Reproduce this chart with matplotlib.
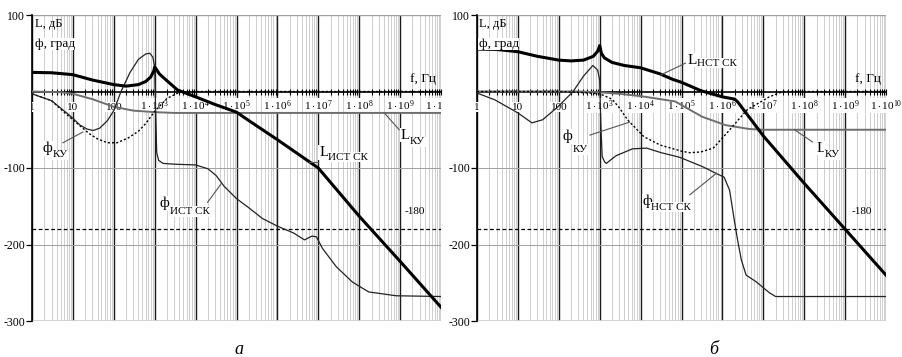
import matplotlib
matplotlib.use('Agg')
import matplotlib.pyplot as plt
from matplotlib.ticker import FixedLocator, NullFormatter
from matplotlib.transforms import ScaledTranslation

plt.rcParams['font.family'] = ['Liberation Serif', 'DejaVu Serif']
plt.rcParams['mathtext.fontset'] = 'custom'
plt.rcParams['mathtext.rm'] = 'Liberation Serif'
plt.rcParams['mathtext.it'] = 'Liberation Serif:italic'

# ---------- panel "а" ----------
fa_L = [1, 3, 10, 30, 100, 200, 400, 600, 800, 950, 1000, 1100, 1300, 2000, 3600,
        1e4, 3e4, 1e5, 2e5, 1e6, 1e7, 1e8, 1e9, 1e10]
La_L = [25, 24.5, 22, 15, 9, 7, 9, 13, 19, 27, 32, 29, 23, 14, 2,
        -7, -17, -27, -38, -63, -100, -163, -222, -282]

fa_KU = [1, 5, 10, 30, 100, 300, 1000, 3000, 1e10]
La_KU = [0, -1, -3, -10, -20, -25, -27, -28, -28]

fa_phiKU = [1, 3, 7, 10, 15, 25, 40, 70, 120, 220, 400, 600, 1000, 2000, 4000, 1e4, 1e10]
pa_KU = [-3, -12, -30, -37, -45, -55, -62, -67, -67, -61, -52, -42, -26, -9, -1, 0, 0]

fa_phi = [1, 3, 7, 10, 15, 22, 31, 45, 70, 100, 150, 250, 400, 600, 760, 900, 1000,
          1060, 1120, 1250, 1600, 3000, 1e4, 2e4, 3.2e4, 5e4, 1e5, 2e5, 4.3e5, 1e6,
          2.5e6, 4.6e6, 7e6, 9e6, 1.26e7, 2.75e7, 6.8e7, 1.7e8, 8e8, 1e10]
pa_phi = [-3, -12, -28, -35, -44, -49, -51, -48, -38, -25, 0, 25, 42, 49, 50, 45, 32,
          -30, -80, -90, -94, -95, -96, -101, -110, -124, -140, -152, -166, -176,
          -185, -194, -189, -190, -205, -229, -249, -262, -267, -268]

# ---------- panel "б" ----------
fb_L = [1, 3, 10, 30, 100, 200, 400, 700, 900, 1000, 1100, 1300, 2000, 4000, 1e4,
        3e4, 6e4, 1e5, 3e5, 1e6, 2e6, 2.4e6, 1e7, 1e8, 1e9, 1e10]
Lb_L = [55.5, 55, 52, 46, 41, 40, 41, 46, 53, 60, 50, 44, 38, 34, 31,
        23, 16, 12, 1, -7, -10, -14, -58, -120, -180, -240]

fb_KU = [1, 300, 1000, 3000, 1e4, 7e4, 3.2e5, 1.2e6, 4.5e6, 1e7, 1e10]
Lb_KU = [0, 0, -1, -3, -6, -13, -33, -44, -49, -50, -50]

fb_phiKU = [1, 100, 300, 1000, 2000, 3000, 4800, 1.2e4, 3e4, 1e5, 1.6e5, 3e5, 6e5,
            1.3e6, 4e6, 1.4e7, 3e7, 1e10]
pb_KU = [0, 0, -1, -3, -10, -21, -37, -59, -70, -78, -80, -79, -74, -54, -24, -7, 0, 0]

fb_phi = [1, 2.75, 10, 22, 40, 95, 224, 400, 630, 680, 890, 1000, 1060, 1150, 1320,
          1450, 2500, 6300, 1.4e4, 3.2e4, 9e4, 3.2e5, 7e5, 1.1e6, 1.5e6, 1.95e6,
          2.35e6, 2.9e6, 3.8e6, 6.8e6, 1.4e7, 2e7, 1e10]
pb_phi = [-2, -11, -28, -41, -37, -20, 0, 20, 32, 34, 28, 15, -40, -85, -92,
          -94, -84, -75, -74, -80, -86, -98, -107, -112, -129, -168,
          -194, -220, -240, -249, -263, -268, -268]

decades = [10 ** d for d in range(11)]
x_labels = ['1', '10', '100'] + [r'$1\cdot10^{%d}$' % d for d in range(3, 11)]
y_ticks = [100, -100, -200, -300]
y_labels = ['100', '-100', '-200', '-300']

fig = plt.figure(figsize=(9.02, 3.57), dpi=100)


def setup(ax):
    ax.set_xscale('log')
    ax.set_xlim(1, 1e10)
    ax.set_ylim(-300, 100)
    for d in range(10):
        for k in range(2, 10):
            ax.axvline(k * 10 ** d, color='#c6c6c6', lw=0.6, zorder=0)
    for d in decades:
        ax.axvline(d, color='#1a1a1a', lw=1.0, zorder=1)
    for yv in [-100, -200]:
        ax.axhline(yv, color='#a0a0a0', lw=0.7, zorder=1)
    ax.axhline(100, color='#a0a0a0', lw=1.0, zorder=1)
    ax.axhline(-300, color='#d0d0d0', lw=2.0, zorder=1)
    ax.axhline(-180, color='black', lw=0.9, ls=(0, (3, 2)), zorder=2)

    for s in ['top', 'right']:
        ax.spines[s].set_visible(False)
    ax.spines['bottom'].set_position(('data', 0))
    ax.spines['bottom'].set_linewidth(1.2)
    ax.spines['left'].set_linewidth(1.2)
    ax.spines['bottom'].set_zorder(2.5)

    ax.set_xticks(decades)
    ax.set_xticklabels([])
    ax.xaxis.set_minor_locator(FixedLocator([k * 10 ** d for d in range(10) for k in range(2, 10)]))
    ax.xaxis.set_minor_formatter(NullFormatter())
    ax.tick_params(axis='x', which='both', direction='inout', length=5, width=0.8)

    ax.set_yticks(y_ticks)
    ax.set_yticklabels(y_labels)
    ax.tick_params(axis='y', direction='out', length=4, width=0.9, labelsize=8.5, pad=1)

    # decade labels just under the f axis, drawn under the curves
    off = ax.transData + ScaledTranslation(0, -13 / 72, fig.dpi_scale_trans)
    for d, s in zip(decades, x_labels):
        ax.text(d, 0, s, transform=off, ha='center', va='baseline', fontsize=8,
                clip_on=True, zorder=2.6,
                bbox=dict(facecolor='white', edgecolor='none', pad=0.3))


def label(ax, x, y, main, sub, xs, ys, fs=11):
    box = dict(facecolor='white', edgecolor='none', pad=0.5)
    ax.text(x, y, main, ha='left', va='center', fontsize=fs, zorder=5, bbox=box)
    ax.text(xs, ys, sub, ha='left', va='center', fontsize=8, zorder=5, bbox=box)


def leader(ax, p1, p2):
    ax.plot([p1[0], p2[0]], [p1[1], p2[1]], color='#555555', lw=0.8, zorder=4)


# ---------- а ----------
ax1 = fig.add_axes([32 / 902, 1 - 321 / 357, 409 / 902, 306 / 357])
setup(ax1)
ax1.plot(fa_KU, La_KU, color='#6e6e6e', lw=1.4, zorder=3)
ax1.plot(fa_phiKU, pa_KU, color='black', lw=1.0, ls=(0, (1.5, 1.5)), zorder=3)
ax1.plot(fa_phi, pa_phi, color='#222222', lw=0.9, zorder=3)
ax1.plot(fa_L, La_L, color='black', lw=2.2, zorder=3)

ax1.text(1.2, 88, 'L, дБ', fontsize=9, va='center', zorder=5)
ax1.text(1.2, 62, 'ф, град', fontsize=9.5, va='center', zorder=5,
         bbox=dict(facecolor='white', edgecolor='none', pad=0.3))
ax1.text(1.7e9, 16, 'f, Гц', fontsize=9.5, va='center', zorder=5)
ax1.text(1.26e9, -157, '-180', fontsize=8, va='center', zorder=5)

label(ax1, 1.85, -74, 'ф', 'КУ', 3.25, -83)
leader(ax1, (5.7, -67), (17.5, -53))
label(ax1, 1325, -146, 'ф', 'ИСТ СК', 2320, -157)
leader(ax1, (1.96e4, -145), (4.3e4, -120))
label(ax1, 1.05e7, -80, 'L', 'ИСТ СК', 1.75e7, -86)
leader(ax1, (6.0e6, -92), (1.0e7, -92))
label(ax1, 1.05e9, -57, 'L', 'КУ', 1.75e9, -66)
leader(ax1, (9.5e8, -50), (4.1e8, -28))

# ---------- б ----------
ax2 = fig.add_axes([477 / 902, 1 - 321 / 357, 409 / 902, 306 / 357])
setup(ax2)
for t in ax2.texts:
    t.set_clip_on(False)
ax2.plot(fb_KU, Lb_KU, color='#6e6e6e', lw=1.4, zorder=3)
ax2.plot(fb_phiKU, pb_KU, color='black', lw=1.0, ls=(0, (1.5, 1.5)), zorder=3)
ax2.plot(fb_phi, pb_phi, color='#222222', lw=0.9, zorder=3)
ax2.plot(fb_L, Lb_L, color='black', lw=2.2, zorder=3)

ax2.text(1.15, 88, 'L, дБ', fontsize=9, va='center', zorder=5)
ax2.text(1.1, 62, 'ф, град', fontsize=9.5, va='center', zorder=5,
         bbox=dict(facecolor='white', edgecolor='none', pad=0.3))
ax2.text(1.7e9, 16, 'f, Гц', fontsize=9.5, va='center', zorder=5)
ax2.text(1.48e9, -157, '-180', fontsize=8, va='center', zorder=5)

label(ax2, 1.4e5, 41, 'L', 'НСТ СК', 2.45e5, 37)
leader(ax2, (1.25e5, 37), (3.2e4, 22))
label(ax2, 1.95e8, -74, 'L', 'КУ', 3.1e8, -83)
leader(ax2, (1.6e8, -66), (5.8e7, -50))
label(ax2, 126, -59, 'ф', 'КУ', 219, -76)
leader(ax2, (575, -57), (5370, -40))
label(ax2, 1.12e4, -144, 'ф', 'НСТ СК', 1.75e4, -151)
leader(ax2, (1.6e5, -135), (7.1e5, -107))

fig.text(239 / 902, 1 - 350 / 357, 'а', fontsize=13, style='italic', ha='center', va='center')
fig.text(714 / 902, 1 - 350 / 357, 'б', fontsize=13, style='italic', ha='center', va='center')

fig.savefig('out.png', dpi=100)
